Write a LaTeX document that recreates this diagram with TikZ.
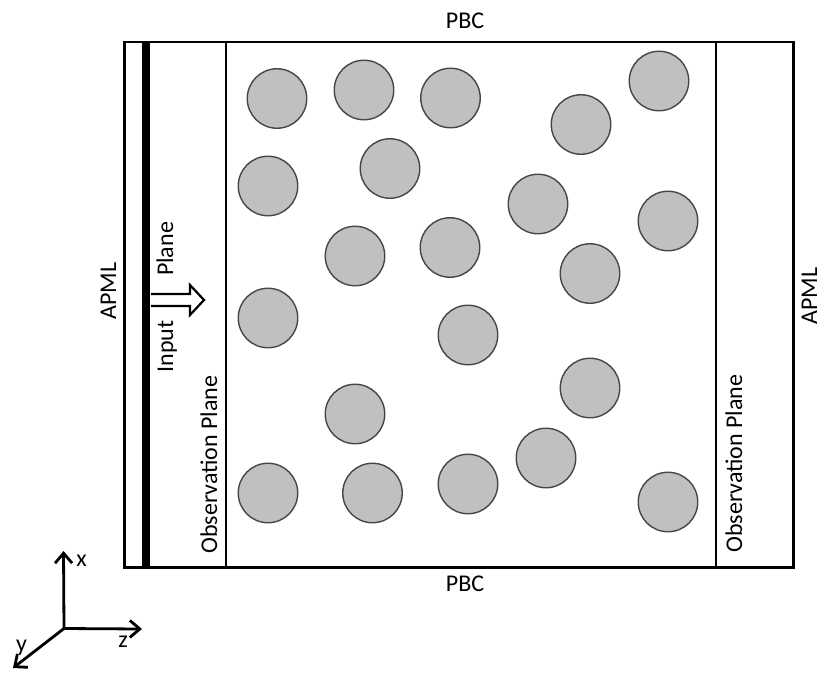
\documentclass[tikz,border=0pt]{standalone}
\usepackage{fontspec}
\setmainfont{Carlito}
\usetikzlibrary{arrows.meta}
\definecolor{pfill}{RGB}{192,192,192}
\definecolor{pedge}{RGB}{70,70,70}
\begin{document}
\begin{tikzpicture}[x=1pt,y=-1pt,
  particle/.style={circle, draw=pedge, fill=pfill, line width=1.4pt, minimum size=59.5pt, inner sep=0pt},
  frame/.style={line width=2.6pt},
  lbl/.style={font=\fontsize{24}{28}\selectfont, inner sep=0pt},
  axis/.style={line width=2.8pt, -{Straight Barb[length=10pt,width=17pt,line width=2.8pt]}}]
\useasboundingbox (0,0) rectangle (824,675);
% frame
\coordinate (tl) at (124.5,42);
\coordinate (br) at (793.5,567.5);
\draw[frame] (tl) rectangle (br);
\fill (142,40.7) rectangle (150,568.8);
\draw[frame] (226,42) -- (226,567.5);
\draw[frame] (716,42) -- (716,567.5);
% input arrow
\draw[line width=2.2pt, fill=white, miter limit=10]
  (151,294) -- (190,294) -- (190,285) -- (204,300) -- (190,315) -- (190,306) -- (151,306);
% particles
\foreach \px/\py [count=\i] in {277/98.5,364/90,450.5/98,581/124.5,659/81,
  268/186,390/168.5,538/204,668/221,355/256,450/247.5,590/273.5,
  268/318,468/335,590/388,355/414,546/458,268/493,372.5/493,468/484,668/502}
  \node[particle] (p\i) at (\px,\py) {};
% labels
\node[lbl, anchor=base] (pbct) at (465,28) {PBC};
\node[lbl, anchor=base] (pbcb) at (465,591) {PBC};
\node[lbl, rotate=90, anchor=base] (apmll) at (116,291) {APML};
\node[lbl, rotate=90, anchor=base] (apmlr) at (817,296) {APML};
\node[lbl, rotate=90, anchor=base] (inp) at (173,346.5) {Input};
\node[lbl, rotate=90, anchor=base] (pln) at (173,249) {Plane};
\node[lbl, rotate=90, anchor=base] (obsl) at (217,464.5) {Observation Plane};
\node[lbl, rotate=90, anchor=base] (obsr) at (742,463.5) {Observation Plane};
% axes
\coordinate (o) at (64,628.5);
\coordinate (xt) at (63.5,551);
\coordinate (zt) at (142,629);
\coordinate (yt) at (13,668);
\draw[axis] (o) -- (xt);
\draw[axis] (o) -- (zt);
\draw[axis] (o) -- (yt);
\node[lbl] (xl) at (81.5,561) {x};
\node[lbl] (zl) at (123,642) {z};
\node[lbl] (yl) at (21.5,648) {y};
\end{tikzpicture}
\end{document}
